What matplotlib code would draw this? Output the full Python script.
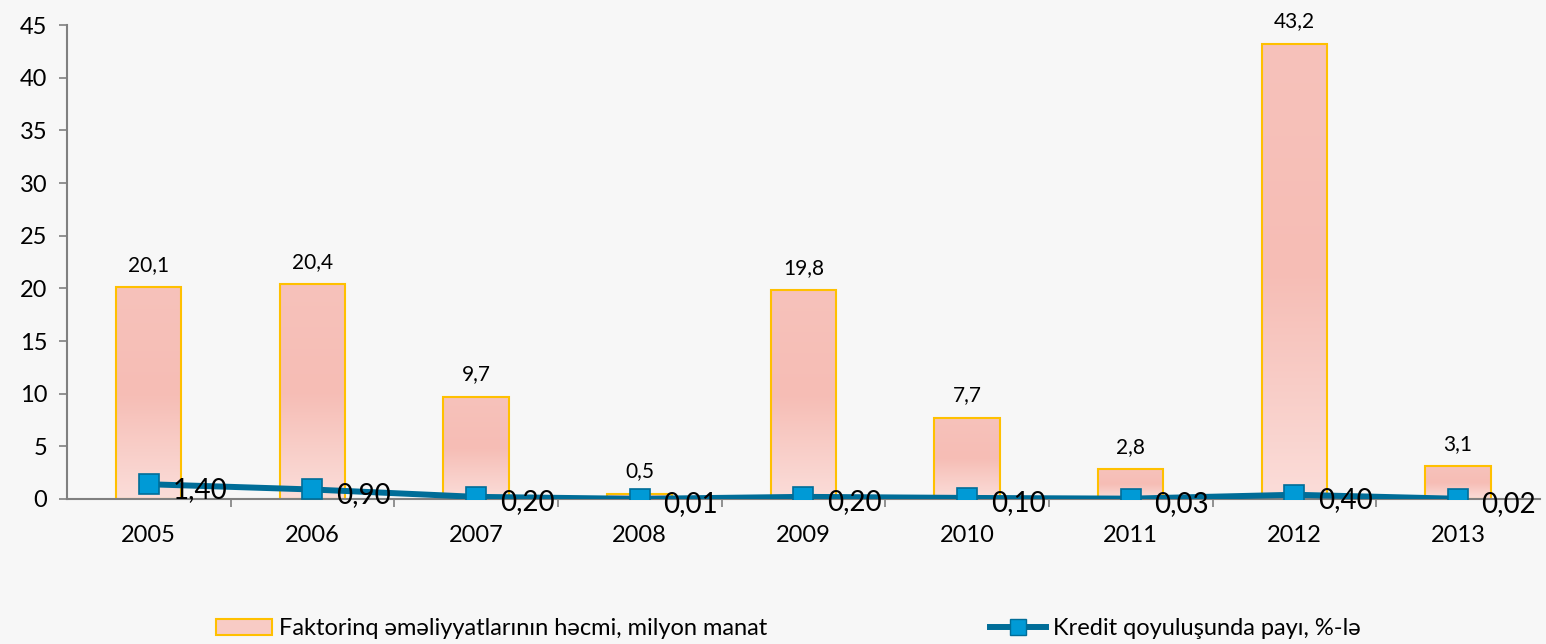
import numpy as np
import matplotlib.pyplot as plt
from matplotlib.patches import Patch
from matplotlib.lines import Line2D
from matplotlib.colors import LinearSegmentedColormap

years = ["2005", "2006", "2007", "2008", "2009", "2010", "2011", "2012", "2013"]
volume = [20.1, 20.4, 9.7, 0.5, 19.8, 7.7, 2.8, 43.2, 3.1]
share = [1.40, 0.90, 0.20, 0.01, 0.20, 0.10, 0.03, 0.40, 0.02]

bar_label = "Faktorinq əməliyyatlarının həcmi, milyon manat"
line_label = "Kredit qoyuluşunda payı, %-lə"

plt.rcParams['font.family'] = ['Lato', 'DejaVu Sans']

bg = "#F7F7F7"
fig = plt.figure(figsize=(15.46, 6.44), dpi=100, facecolor=bg)
ax = fig.add_axes([0.0433, 0.2252, 0.9527, 0.7358])
ax.set_facecolor(bg)

x = np.arange(len(years))
bars = ax.bar(x, volume, width=0.40, color="#F7C3BC", edgecolor="#FFC000",
              linewidth=1.5, zorder=2)

# vertical gradient inside each bar
grad_cmap = LinearSegmentedColormap.from_list("g", ["#FBDDD9", "#F6BDB5", "#F7C2BB"])
grad = np.linspace(0, 1, 256).reshape(-1, 1)
for b in bars:
    x0, y0 = b.get_x(), b.get_y()
    w, h = b.get_width(), b.get_height()
    im = ax.imshow(grad, cmap=grad_cmap, aspect="auto", origin="lower",
                   extent=[x0, x0 + w, y0, y0 + h], zorder=2.1)
    im.set_clip_path(b)
    b.set_facecolor("none")
    b.set_zorder(2.2)

for xi, v in zip(x, volume):
    ax.annotate(f"{v:.1f}".replace(".", ","), (xi, v), xytext=(0, 9),
                textcoords="offset points", ha="center", va="bottom", fontsize=15)

ax.plot(x, share, color="#006D98", linewidth=4.3, marker="s", markersize=15,
        markerfacecolor="#009AD6", markeredgecolor="#006D98", markeredgewidth=1.2,
        zorder=4)
for xi, v in zip(x, share):
    ax.annotate(f"{v:.2f}".replace(".", ","), (xi, v), xytext=(17, -4),
                textcoords="offset points", ha="left", va="center", fontsize=20,
                zorder=5)

ax.set_xlim(-0.5, len(years) - 0.5)
ax.set_ylim(0, 45)
ax.set_yticks(range(0, 46, 5))
ax.set_xticks(x)
ax.set_xticklabels(years)
ax.set_xticks(np.arange(0.5, len(years) - 1, 1), minor=True)
ax.tick_params(axis="x", which="major", length=0, labelsize=17, pad=19)
ax.tick_params(axis="x", which="minor", length=6, color="#808080", width=1.2)
ax.tick_params(axis="y", labelsize=17, length=6, color="#808080", width=1.2, pad=8)
for s in ["top", "right"]:
    ax.spines[s].set_visible(False)
for s in ["left", "bottom"]:
    ax.spines[s].set_color("#808080")
    ax.spines[s].set_linewidth(1.5)

handles = [
    Patch(facecolor="#F8CBC5", edgecolor="#FFC000", linewidth=1.5),
    Line2D([0], [0], color="#006D98", linewidth=4.3, marker="s", markersize=11,
           markerfacecolor="#009AD6", markeredgecolor="#006D98"),
]
fig.legend(handles, [bar_label, line_label], loc="center", ncol=2,
           bbox_to_anchor=(0.51, 0.024), frameon=False, fontsize=17,
           handlelength=2.4, handletextpad=0.3, columnspacing=9.4)

fig.savefig("out.png", dpi=100, facecolor=bg)
